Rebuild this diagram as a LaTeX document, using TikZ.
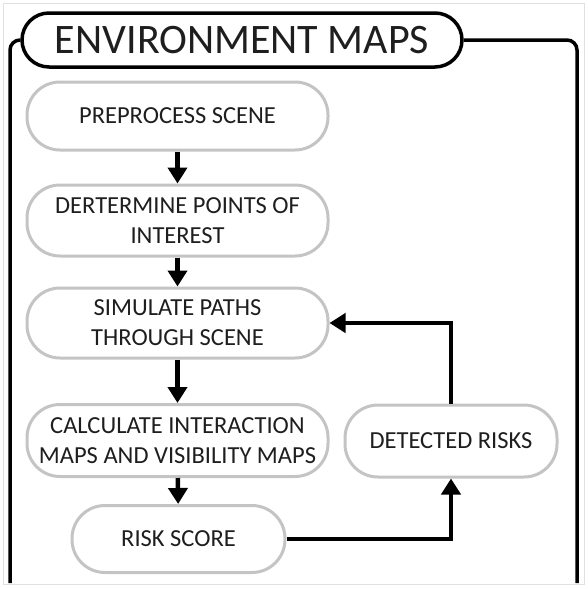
\documentclass[tikz,border=0pt]{standalone}
\usepackage{fontspec}
\setmainfont{Carlito}
\usetikzlibrary{arrows.meta,calc}
\definecolor{boxgray}{HTML}{C4C4C4}
\definecolor{txt}{HTML}{1E1E1E}
\begin{document}
\begin{tikzpicture}[x=1pt,y=-1pt,
  stepbox/.style={draw=boxgray, line width=3pt, fill=white, rounded corners=33pt,
    inner sep=0pt, minimum width=301pt, text=txt, align=center,
    font=\fontsize{24.5}{30}\selectfont},
  flow/.style={line width=4.5pt, -{Triangle[width=19pt,length=16pt]}},
  frameline/.style={line width=3.5pt, rounded corners=10pt}]
\useasboundingbox (0,0) rectangle (587,589);
\draw[draw=black!12, line width=1pt] (3,3) rectangle (584,584);
\node[draw=black, line width=3.5pt, rounded corners=27pt, minimum width=440pt,
  minimum height=54pt, inner sep=0pt, text=txt, font=\fontsize{42}{50}\selectfont]
  (title) at (242,40) {ENVIRONMENT MAPS};
\coordinate (fl) at (10,583);
\coordinate (fr) at (577,583);
\draw[frameline] (fl) |- (title.west);
\draw[frameline] (title.east) -| (fr);
\node[stepbox, minimum height=68pt] (n1) at (177.5,116) {PREPROCESS SCENE};
\node[stepbox, minimum height=71pt] (n2) at (177.5,220.5) {DERTERMINE POINTS OF\\INTEREST};
\node[stepbox, minimum height=70pt] (n3) at (177.5,323) {SIMULATE PATHS\\THROUGH SCENE};
\node[stepbox, minimum height=72pt] (n4) at (177.5,440.5) {CALCULATE INTERACTION\\MAPS AND VISIBILITY MAPS};
\node[stepbox, minimum height=67pt, minimum width=213pt] (n5) at (178.5,539) {RISK SCORE};
\node[stepbox, minimum height=72pt, minimum width=212pt] (n6) at (451,441) {DETECTED RISKS};
\draw[flow] (n1) -- (n2);
\draw[flow] (n2) -- (n3);
\draw[flow] (n3) -- (n4);
\draw[flow] (n4) -- (n5);
\draw[flow] (n5.east) -| (n6.south);
\draw[flow] (n6.north) |- (n3.east);
\end{tikzpicture}
\end{document}
